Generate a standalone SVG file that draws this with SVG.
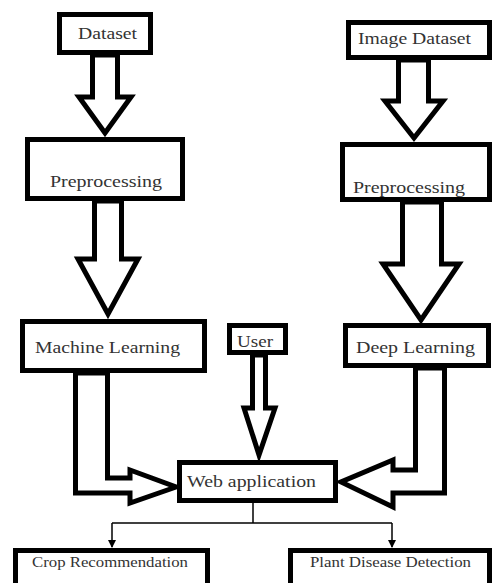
<svg xmlns="http://www.w3.org/2000/svg" width="493" height="583" viewBox="0 0 493 583">
<style>
.box{fill:#fff;stroke:#000;stroke-width:5}
.blk{fill:#fff;stroke:#000;stroke-width:5;stroke-linejoin:miter}
.thin{fill:none;stroke:#000;stroke-width:1.5}
.t{font-family:'Liberation Serif','DejaVu Serif',serif;fill:#333;font-size:16px}
.s{font-size:15px}
</style>
<defs>
<marker id="ah" markerWidth="8" markerHeight="8" refX="7" refY="4" orient="auto" markerUnits="userSpaceOnUse">
<path d="M0,0 L8,4 L0,8 Z" fill="#000"/>
</marker>
</defs>
<rect width="493" height="583" fill="#fff"/>
<g id="connectors">
<polygon class="blk" points="92.5,55 92.5,97 79,97 105,133 131,97 117.5,97 117.5,55"/>
<polygon class="blk" points="94.5,201 94.5,259 78,259 108,314 138,259 121.5,259 121.5,201"/>
<polygon class="blk" points="398.5,60 398.5,101 385,101 414,138 443,101 428.5,101 428.5,60"/>
<polygon class="blk" points="402.5,202 402.5,264 383,264 421,320 459,264 441.5,264 441.5,202"/>
<polygon class="blk" points="252.5,355 252.5,408 244,408 259,455 275,408 265.5,408 265.5,355"/>
<polygon class="blk" points="75.5,373 75.5,493 130,493 130,503 176,487 130,470 130,478 107.5,478 107.5,373"/>
<polygon class="blk" points="415.5,368 415.5,470 393,470 393,460 341,482 393,507 393,493 444.5,493 444.5,368"/>
<path class="thin" d="M253,503 V523"/>
<path class="thin" d="M112,523 H392"/>
<path class="thin" d="M112,523 V547" marker-end="url(#ah)"/>
<path class="thin" d="M392,523 V547" marker-end="url(#ah)"/>
</g>
<g id="dataset">
<rect class="box" x="59.5" y="14.5" width="91" height="38"/>
<text class="t" x="78" y="39" textLength="59" lengthAdjust="spacingAndGlyphs">Dataset</text>
</g>
<g id="preprocessing-left">
<rect class="box" x="27.5" y="139.5" width="155" height="59"/>
<text class="t" x="50" y="187" textLength="112" lengthAdjust="spacingAndGlyphs">Preprocessing</text>
</g>
<g id="image-dataset">
<rect class="box" x="348.5" y="22.5" width="141" height="35"/>
<text class="t" x="358" y="44" textLength="113" lengthAdjust="spacingAndGlyphs">Image Dataset</text>
</g>
<g id="preprocessing-right">
<rect class="box" x="342.5" y="144.5" width="147" height="55"/>
<text class="t" x="353" y="193" textLength="112" lengthAdjust="spacingAndGlyphs">Preprocessing</text>
</g>
<g id="machine-learning">
<rect class="box" x="22.5" y="321.5" width="182" height="49"/>
<text class="t" x="35" y="353" textLength="145" lengthAdjust="spacingAndGlyphs">Machine Learning</text>
</g>
<g id="user">
<rect class="box" x="229.5" y="325.5" width="56" height="27"/>
<text class="t" x="237" y="347" textLength="36" lengthAdjust="spacingAndGlyphs">User</text>
</g>
<g id="deep-learning">
<rect class="box" x="345.5" y="325.5" width="143" height="40"/>
<text class="t" x="356" y="353" textLength="119" lengthAdjust="spacingAndGlyphs">Deep Learning</text>
</g>
<g id="web-application">
<rect class="box" x="179.5" y="462.5" width="156" height="38"/>
<text class="t" x="187" y="487" textLength="129" lengthAdjust="spacingAndGlyphs">Web application</text>
</g>
<g id="crop-recommendation">
<rect class="box" x="15.5" y="550.5" width="192" height="50"/>
<text class="t s" x="32" y="567" textLength="156" lengthAdjust="spacingAndGlyphs">Crop Recommendation</text>
</g>
<g id="plant-disease-detection">
<rect class="box" x="290.5" y="550.5" width="199" height="50"/>
<text class="t s" x="310" y="567" textLength="161" lengthAdjust="spacingAndGlyphs">Plant Disease Detection</text>
</g>
</svg>
